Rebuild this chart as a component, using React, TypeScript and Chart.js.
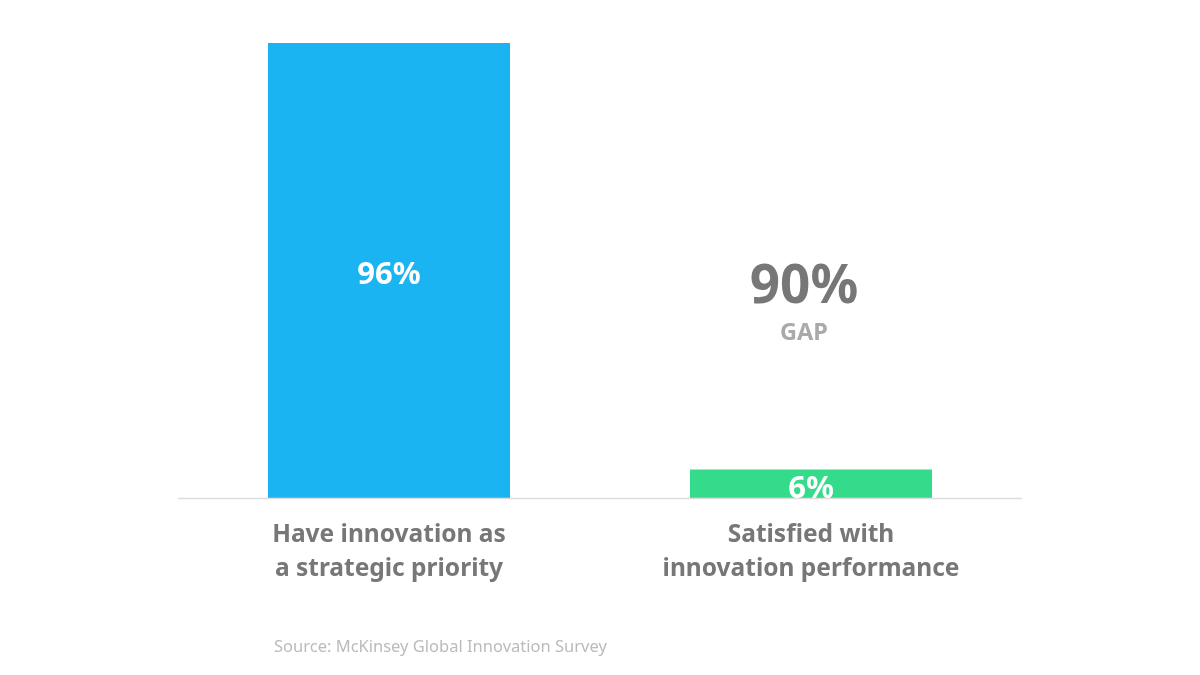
import React, { useEffect, useRef } from "react";
import { Chart, registerables } from "chart.js";

Chart.register(...registerables);

const categories: string[][] = [
  ["Have innovation as", "a strategic priority"],
  ["Satisfied with", "innovation performance"],
];
const values: number[] = [96, 6];
const barColors: string[] = ["#1BB4F2", "#34DB8A"];
const valueLabels: string[] = ["96%", "6%"];
const gapValue = "90%";
const gapLabel = "GAP";
const sourceText = "Source: McKinsey Global Innovation Survey";

const FONT = "'Noto Sans', 'Open Sans', sans-serif";

const overlayPlugin = {
  id: "overlay",
  afterDatasetsDraw(chart: any) {
    const { ctx, chartArea, scales } = chart;
    const x = scales.x;
    const y = scales.y;
    ctx.save();
    // baseline
    ctx.strokeStyle = "#DDDDDD";
    ctx.lineWidth = 1.5;
    ctx.beginPath();
    ctx.moveTo(chartArea.left, y.getPixelForValue(0) + 0.5);
    ctx.lineTo(chartArea.right, y.getPixelForValue(0) + 0.5);
    ctx.stroke();

    ctx.textAlign = "center";
    ctx.textBaseline = "middle";
    // value labels inside bars
    values.forEach((v, i) => {
      const cx = x.getPixelForValue(i);
      const cy = (y.getPixelForValue(v) + y.getPixelForValue(0)) / 2 + 5;
      ctx.fillStyle = "#FFFFFF";
      ctx.font = `bold 31px ${FONT}`;
      ctx.fillText(valueLabels[i], cx, cy);
    });
    // category labels
    categories.forEach((lines, i) => {
      const cx = x.getPixelForValue(i);
      ctx.fillStyle = "#777777";
      ctx.font = `bold 24.5px ${FONT}`;
      lines.forEach((ln, j) => {
        ctx.fillText(ln, cx, y.getPixelForValue(0) + 37 + j * 34);
      });
    });
    // gap annotation
    const gx = x.getPixelForValue(1) - 7;
    const gy = y.getPixelForValue(45) + 3;
    ctx.fillStyle = "#777777";
    ctx.font = `bold 53px ${FONT}`;
    ctx.fillText(gapValue, gx, gy);
    ctx.fillStyle = "#AAAAAA";
    ctx.font = `bold 23.5px ${FONT}`;
    ctx.fillText(gapLabel, gx, gy + 46);

    // source
    ctx.textAlign = "left";
    ctx.fillStyle = "#BBBBBB";
    ctx.font = `16.5px ${FONT}`;
    ctx.fillText(sourceText, 274, 647);
    ctx.restore();
  },
};

export default function App() {
  const ref = useRef<HTMLCanvasElement | null>(null);
  useEffect(() => {
    document.body.style.margin = "0";
    if (!ref.current) return;
    const chart = new Chart(ref.current, {
      type: "bar",
      data: {
        labels: categories.map((c) => c.join(" ")),
        datasets: [
          {
            data: values,
            backgroundColor: barColors,
            borderWidth: 0,
            categoryPercentage: 1,
            barPercentage: 0.5735,
          },
        ],
      },
      options: {
        animation: false,
        responsive: false,
        maintainAspectRatio: false,
        layout: { padding: { left: 178, right: 178, top: 43, bottom: 177 } },
        plugins: { legend: { display: false }, tooltip: { enabled: false } },
        scales: {
          x: { display: false },
          y: { display: false, min: 0, max: 96 },
        },
      },
      plugins: [overlayPlugin],
    });
    return () => chart.destroy();
  }, []);
  return (
    <div style={{ width: 1200, height: 675, background: "#fff" }}>
      <canvas ref={ref} width={1200} height={675} style={{ display: "block" }} />
    </div>
  );
}
